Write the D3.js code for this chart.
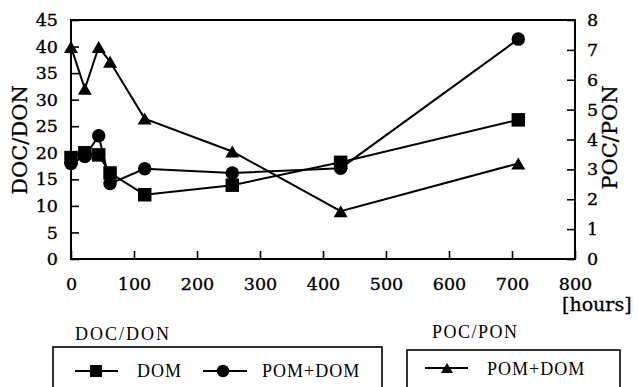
<!DOCTYPE html>
<html>
<head>
<meta charset="utf-8">
<script src="https://cdn.jsdelivr.net/npm/d3@7"></script>
<style>
  html, body { margin: 0; padding: 0; background: #fff; }
  svg { display: block; }
  .tick text { font-family: "DejaVu Serif", serif; font-size: 17.5px; fill: #000;
               stroke: #000; stroke-width: 0.35px; }
  .title { stroke: #000; stroke-width: 0.3px; }
</style>
</head>
<body>
<svg id="chart" width="638" height="387"></svg>
<script>
// Sampling times [hours]
const hours = [0, 22, 44, 62, 117, 256, 428, 710];

// DOC/DON ratios (left axis)
const docDonDOM    = [19.1, 20.0, 19.6, 16.2, 12.1, 13.9, 18.2, 26.2];
const docDonPOMDOM = [18.0, 19.3, 23.2, 14.2, 17.0, 16.2, 17.1, 41.4];

// POC/PON ratio (right axis)
const pocPonPOMDOM = [7.1, 5.7, 7.1, 6.6, 4.7, 3.6, 1.6, 3.2];

// Axis ticks
const xTicks = [0, 100, 200, 300, 400, 500, 600, 700, 800];
const yLeftTicks = [0, 5, 10, 15, 20, 25, 30, 35, 40, 45];
const yRightTicks = [0, 1, 2, 3, 4, 5, 6, 7, 8];

const svg = d3.select("#chart");
const L = 71, R = 575, T = 20, B = 259;

const x = d3.scaleLinear().domain([0, 800]).range([L, R]);
const yL = d3.scaleLinear().domain([0, 45]).range([B, T]);
const yR = d3.scaleLinear().domain([0, 8]).range([B, T]);

svg.append("rect").attr("width", 638).attr("height", 387).attr("fill", "#fff");

// Axes with inward ticks
const gx = svg.append("g").attr("transform", `translate(0,${B})`)
  .call(d3.axisBottom(x).tickValues(xTicks).tickFormat(d3.format("d"))
    .tickSizeInner(-8).tickSizeOuter(0).tickPadding(19));
const gl = svg.append("g").attr("transform", `translate(${L},0)`)
  .call(d3.axisLeft(yL).tickValues(yLeftTicks).tickFormat(d3.format("d"))
    .tickSizeInner(-8).tickSizeOuter(0).tickPadding(13));
const gr = svg.append("g").attr("transform", `translate(${R},0)`)
  .call(d3.axisRight(yR).tickValues(yRightTicks).tickFormat(d3.format("d"))
    .tickSizeInner(-8).tickSizeOuter(0).tickPadding(12));
[gx, gl, gr].forEach(g => {
  g.select(".domain").remove();
  g.selectAll(".tick line").attr("stroke", "#000").attr("stroke-width", 1.6);
});

// Plot frame
svg.append("rect")
  .attr("x", L).attr("y", T).attr("width", R - L).attr("height", B - T)
  .attr("fill", "none").attr("stroke", "#000").attr("stroke-width", 2);

// Axis titles
const serif = "DejaVu Serif, serif";
svg.append("text").attr("class", "title")
  .attr("transform", "translate(26.5,140) rotate(-90)")
  .attr("text-anchor", "middle")
  .attr("font-family", serif).attr("font-size", 21)
  .text("DOC/DON");
svg.append("text").attr("class", "title")
  .attr("transform", "translate(617,137.5) rotate(-90)")
  .attr("text-anchor", "middle")
  .attr("font-family", serif).attr("font-size", 21)
  .text("POC/PON");
svg.append("text").attr("class", "title")
  .attr("x", 562).attr("y", 311)
  .attr("font-family", serif).attr("font-size", 19)
  .text("[hours]");

// Marker shapes
function square(g, cx, cy, s) {
  g.append("rect").attr("x", cx - s / 2).attr("y", cy - s / 2)
    .attr("width", s).attr("height", s).attr("fill", "#000");
}
function circle(g, cx, cy, s) {
  g.append("circle").attr("cx", cx).attr("cy", cy).attr("r", s / 2).attr("fill", "#000");
}
function triangle(g, cx, cy, w, h) {
  g.append("path")
    .attr("d", `M${cx},${cy - h / 2}L${cx + w / 2},${cy + h / 2}L${cx - w / 2},${cy + h / 2}Z`)
    .attr("fill", "#000");
}

const series = [
  { values: pocPonPOMDOM, y: yR, marker: (g, cx, cy) => triangle(g, cx, cy, 14, 12) },
  { values: docDonPOMDOM, y: yL, marker: (g, cx, cy) => circle(g, cx, cy, 13.5) },
  { values: docDonDOM,    y: yL, marker: (g, cx, cy) => square(g, cx, cy, 13.5) }
];

const lineLayer = svg.append("g");
const markLayer = svg.append("g");
series.forEach(s => {
  const line = d3.line().x((d, i) => x(hours[i])).y(d => s.y(d));
  lineLayer.append("path").datum(s.values)
    .attr("d", line).attr("fill", "none")
    .attr("stroke", "#000").attr("stroke-width", 2);
  s.values.forEach((v, i) => s.marker(markLayer, x(hours[i]), s.y(v)));
});

// Legends
const legendFont = "Liberation Serif, serif";
svg.append("text").attr("x", 75).attr("y", 340)
  .attr("font-family", legendFont).attr("font-size", 18).attr("letter-spacing", 2)
  .text("DOC/DON");
svg.append("text").attr("x", 432).attr("y", 338)
  .attr("font-family", legendFont).attr("font-size", 18).attr("letter-spacing", 1.5)
  .text("POC/PON");

svg.append("rect").attr("x", 53).attr("y", 347).attr("width", 329).attr("height", 60)
  .attr("fill", "none").attr("stroke", "#000").attr("stroke-width", 1.6);
svg.append("rect").attr("x", 407).attr("y", 350).attr("width", 213).attr("height", 60)
  .attr("fill", "none").attr("stroke", "#000").attr("stroke-width", 1.6);

const leg = svg.append("g");
const legendItems = [
  { x1: 75,  x2: 118, cx: 96,  y: 371, tx: 137, ty: 377, label: "DOM",
    marker: (g, cx, cy) => square(g, cx, cy, 12) },
  { x1: 203, x2: 247, cx: 223, y: 371, tx: 262, ty: 377, label: "POM+DOM",
    marker: (g, cx, cy) => circle(g, cx, cy, 12.5) },
  { x1: 425, x2: 468, cx: 447, y: 368, tx: 487, ty: 375, label: "POM+DOM",
    marker: (g, cx, cy) => triangle(g, cx, cy, 12, 10) }
];
legendItems.forEach(it => {
  leg.append("line").attr("x1", it.x1).attr("x2", it.x2)
    .attr("y1", it.y).attr("y2", it.y)
    .attr("stroke", "#000").attr("stroke-width", 2);
  it.marker(leg, it.cx, it.y);
  leg.append("text").attr("x", it.tx).attr("y", it.ty)
    .attr("font-family", legendFont).attr("font-size", 18).attr("letter-spacing", 1)
    .text(it.label);
});
</script>
</body>
</html>
